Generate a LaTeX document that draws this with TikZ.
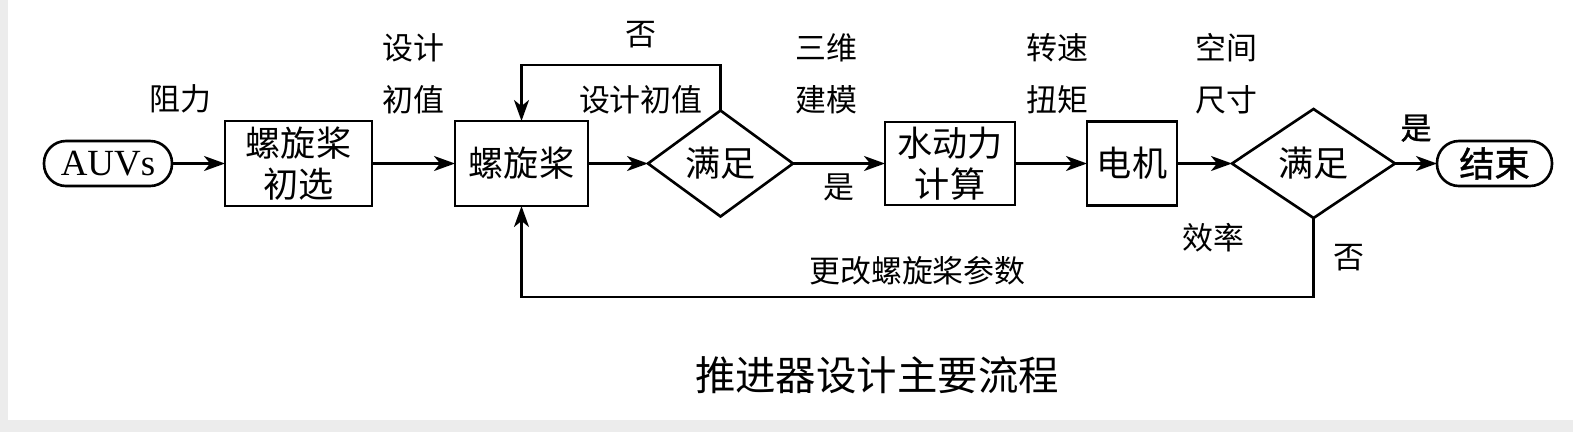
\documentclass[tikz,border=0pt]{standalone}
\usepackage{fontspec}
\setmainfont{Noto Sans CJK SC}
\newfontfamily\latinfont{Liberation Serif}
\newfontfamily\semibold[FakeBold=1.2]{Noto Sans CJK SC}
\usetikzlibrary{positioning,shapes.geometric,arrows.meta}
\tikzset{
  box/.style={rectangle, draw=black, line width=0.75pt, inner sep=0pt, outer sep=0pt, align=center, font=\fontsize{10}{11.5}\selectfont},
  decide/.style={diamond, draw=black, line width=0.75pt, inner sep=0pt, outer sep=0pt, font=\fontsize{10}{12}\selectfont},
  term/.style={rectangle, rounded corners=0.22cm, draw=black, line width=0.75pt, inner sep=0pt, outer sep=0pt, minimum height=0.45cm},
  lbl/.style={align=center, inner sep=1pt, font=\fontsize{8.8}{14.8}\selectfont},
  >={Stealth[length=0.21cm, width=0.15cm, inset=0.06cm]},
}
\begin{document}
\begin{tikzpicture}[line width=0.7pt]
\fill[gray!15] (0,0) rectangle (15.73,4.32);
\fill[white] (0.08,0.12) rectangle (15.73,4.32);
\useasboundingbox (0,0) rectangle (15.73,4.32);

\node [term, minimum width=1.28cm, font=\latinfont\fontsize{10.5}{12}\selectfont] (auv) at (1.08,2.685) {AUVs};
\node [box, minimum width=1.47cm, minimum height=0.85cm] (select) [right=0.53cm of auv] {螺旋桨\\初选};
\node [box, minimum width=1.33cm, minimum height=0.85cm] (prop) [right=0.83cm of select] {螺旋桨};
\node [decide, minimum width=1.45cm, minimum height=1.06cm] (check) [right=0.60cm of prop] {满足};
\node [box, minimum width=1.30cm, minimum height=0.83cm] (hydro) [right=0.92cm of check] {水动力\\计算};
\node [box, minimum width=0.90cm, minimum height=0.84cm] (motor) [right=0.72cm of hydro] {电机};
\node [decide, minimum width=1.63cm, minimum height=1.09cm] (checkb) [right=0.55cm of motor] {满足};
\node [term, minimum width=1.15cm, font=\semibold\fontsize{10}{12}\selectfont] (stop) [right=0.42cm of checkb] {结束};

\draw[->] (auv) to node[lbl, above=0.46cm, xshift=-0.18cm] {阻力} (select);
\draw[->] (select) to node[lbl, above=0.45cm] {设计\\初值} (prop);
\draw[->] (prop) to (check);
\draw[->] (check) to node[lbl, above=0.45cm, xshift=-0.13cm] {三维\\建模} node[lbl, below=0.06cm] {是} (hydro);
\draw[->] (hydro) to node[lbl, above=0.45cm, xshift=0.06cm] {转速\\扭矩} (motor);
\draw[->] (motor) to node[lbl, above=0.45cm, xshift=0.22cm] {空间\\尺寸} node[lbl, below=0.55cm, xshift=0.09cm] {效率} (checkb);
\draw[->] (checkb) to node[lbl, above=0.17cm, font=\semibold\fontsize{8.8}{12}\selectfont] {是} (stop);

\draw[->] (check.north) |- node[lbl, pos=0.7, above=0.12cm] {否} node[lbl, pos=0.7, below=0.16cm] {设计初值} ([yshift=0.56cm]prop.north) -- (prop.north);
\draw[->] (checkb.south) |- node[lbl, pos=0.25, right=0.15cm] {否} node[lbl, pos=0.75, above=0.07cm] {更改螺旋桨参数} ([yshift=-0.91cm]prop.south) -- (prop.south);

\node [font=\fontsize{11.5}{14}\selectfont] (caption) at (8.77,0.57) {推进器设计主要流程};
\end{tikzpicture}
\end{document}
